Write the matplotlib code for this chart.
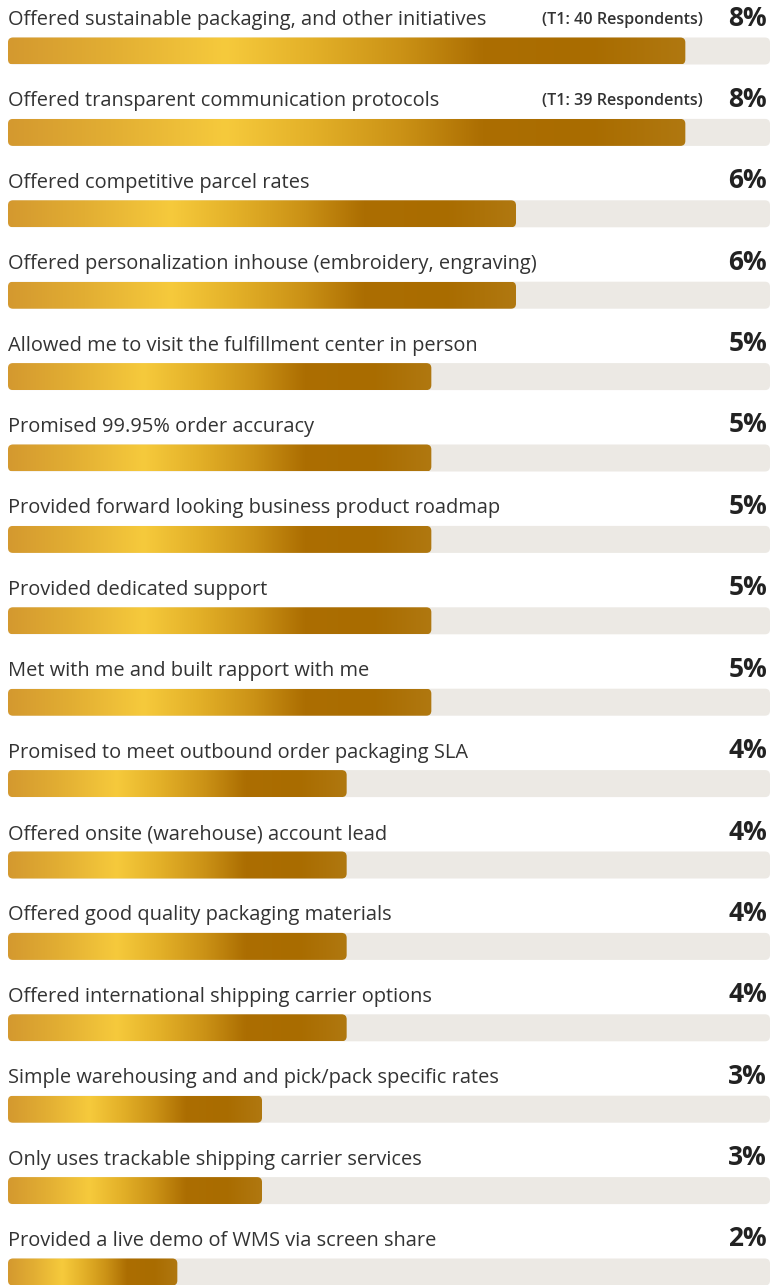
import numpy as np
import matplotlib
matplotlib.use('Agg')
import matplotlib.pyplot as plt
from matplotlib.colors import LinearSegmentedColormap
from matplotlib.patches import FancyBboxPatch

# Datos
labels = [
    'Offered sustainable packaging, and other initiatives',
    'Offered transparent communication protocols',
    'Offered competitive parcel rates',
    'Offered personalization inhouse (embroidery, engraving)',
    'Allowed me to visit the fulfillment center in person',
    'Promised 99.95% order accuracy',
    'Provided forward looking business product roadmap',
    'Provided dedicated support',
    'Met with me and built rapport with me',
    'Promised to meet outbound order packaging SLA',
    'Offered onsite (warehouse) account lead',
    'Offered good quality packaging materials',
    'Offered international shipping carrier options',
    'Simple warehousing and and pick/pack specific rates',
    'Only uses trackable shipping carrier services',
    'Provided a live demo of WMS via screen share',
]
values = [8, 8, 6, 6, 5, 5, 5, 5, 5, 4, 4, 4, 4, 3, 3, 2]
notes = ['(T1: 40 Respondents)', '(T1: 39 Respondents)'] + [''] * 14
track_max = 9

gold = LinearSegmentedColormap.from_list('gold', [
    (0.00, '#D4992F'),
    (0.15, '#E2AE33'),
    (0.32, '#F6CA3C'),
    (0.45, '#E3B028'),
    (0.58, '#CB9216'),
    (0.70, '#AC6E02'),
    (0.86, '#A96C00'),
    (1.00, '#B07810'),
])

plt.rcParams['font.family'] = ['Open Sans', 'DejaVu Sans']

W, H = 770, 1285
row_px = 81.4
x_px = (W - 8) / track_max
fig = plt.figure(figsize=(W / 100, H / 100), dpi=100)
ax = fig.add_axes([8 / W, 0, (W - 8) / W, 1])
ax.set_xlim(0, track_max)
ax.axis('off')

bar_h = 27 / row_px
r = 5 / x_px
aspect = x_px / row_px
grad = np.linspace(0, 1, 256).reshape(1, -1)

for i, (lab, v, note) in enumerate(zip(labels, values, notes)):
    y0 = i - bar_h / 2
    # pista de fondo
    track = FancyBboxPatch((0, y0), track_max, bar_h,
                           boxstyle=f'round,pad=0,rounding_size={r}',
                           mutation_aspect=aspect,
                           fc='#ECE9E4', ec='none', zorder=1)
    ax.add_patch(track)
    # barra con degradado dorado
    bar = FancyBboxPatch((0, y0), v, bar_h,
                         boxstyle=f'round,pad=0,rounding_size={r}',
                         mutation_aspect=aspect,
                         fc='none', ec='none', zorder=2)
    ax.add_patch(bar)
    im = ax.imshow(grad, cmap=gold, aspect='auto', zorder=2,
                   extent=(0, v, y0 + bar_h, y0), interpolation='bilinear')
    im.set_clip_path(bar)

    ty = i - 31 / row_px
    ax.text(0, ty, lab, fontsize=14.4, color='#333333', va='center', ha='left')
    ax.text(track_max - 3 / x_px, ty - 2 / row_px, f'{v}%', fontsize=19,
            fontweight='bold', color='#222222', va='center', ha='right')
    if note:
        ax.text(track_max - 67 / x_px, ty, note, fontsize=11.6,
                fontweight='semibold', color='#333333', va='center', ha='right')

ax.set_ylim((H - 51) / row_px, -51 / row_px)
fig.savefig('out.png', dpi=100, facecolor='white')
